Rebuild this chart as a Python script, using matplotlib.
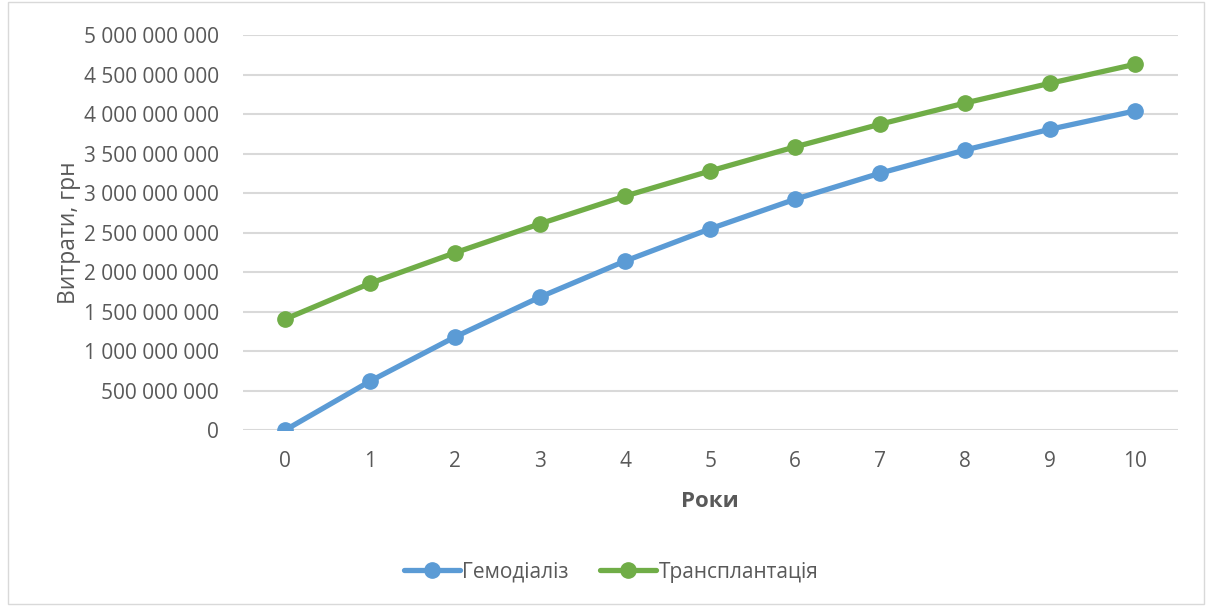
import matplotlib.pyplot as plt
from matplotlib.ticker import FuncFormatter
from matplotlib.patches import Rectangle

plt.rcParams['font.family'] = ['Open Sans', 'DejaVu Sans']

# Years since start and cumulative costs (UAH)
years = [0, 1, 2, 3, 4, 5, 6, 7, 8, 9, 10]
hemodialysis = [0, 620e6, 1180e6, 1685e6, 2140e6, 2548e6, 2922e6, 3252e6, 3545e6, 3808e6, 4040e6]
transplant = [1405e6, 1858e6, 2245e6, 2612e6, 2962e6, 3280e6, 3585e6, 3872e6, 4140e6, 4390e6, 4630e6]

text_color = '#595959'

fig = plt.figure(figsize=(12.08, 6.06), dpi=100)
ax = fig.add_axes([0.201, 0.2904, 0.774, 0.6518])

ax.plot(years, hemodialysis, color='#5B9BD5', lw=3.8, marker='o', ms=11,
        label='Гемодіаліз', solid_capstyle='round')
ax.plot(years, transplant, color='#70AD47', lw=3.8, marker='o', ms=11,
        label='Трансплантація', solid_capstyle='round')

ax.set_xlim(-0.5, 10.5)
ax.set_ylim(0, 5e9)
ax.set_xticks(years)
ax.set_yticks([i * 5e8 for i in range(11)])
ax.yaxis.set_major_formatter(FuncFormatter(lambda v, p: f'{int(v):,}'.replace(',', ' ')))
ax.grid(axis='y', color='#D9D9D9', lw=1.5)
ax.set_axisbelow(True)
for s in ax.spines.values():
    s.set_visible(False)
ax.tick_params(length=0, labelsize=15, colors=text_color)
ax.tick_params(axis='y', pad=17)
ax.tick_params(axis='x', pad=15)

ax.set_xlabel('Роки', fontsize=16, fontweight='bold', color=text_color, labelpad=14)
ax.set_ylabel('Витрати, грн', fontsize=16.5, color=text_color, labelpad=2)

# Legend centred under the whole chart
fig.legend(loc='center', bbox_to_anchor=(0.506, 0.056), ncol=2, frameon=False,
           fontsize=15, labelcolor=text_color, handlelength=2.7, handletextpad=0.1,
           columnspacing=1.5)

# Light frame around the chart
fig.patches.append(Rectangle((0.007, 0.003), 0.99, 0.994, transform=fig.transFigure,
                             fill=False, edgecolor='#D9D9D9', lw=1))

fig.savefig('out.png', dpi=100)
